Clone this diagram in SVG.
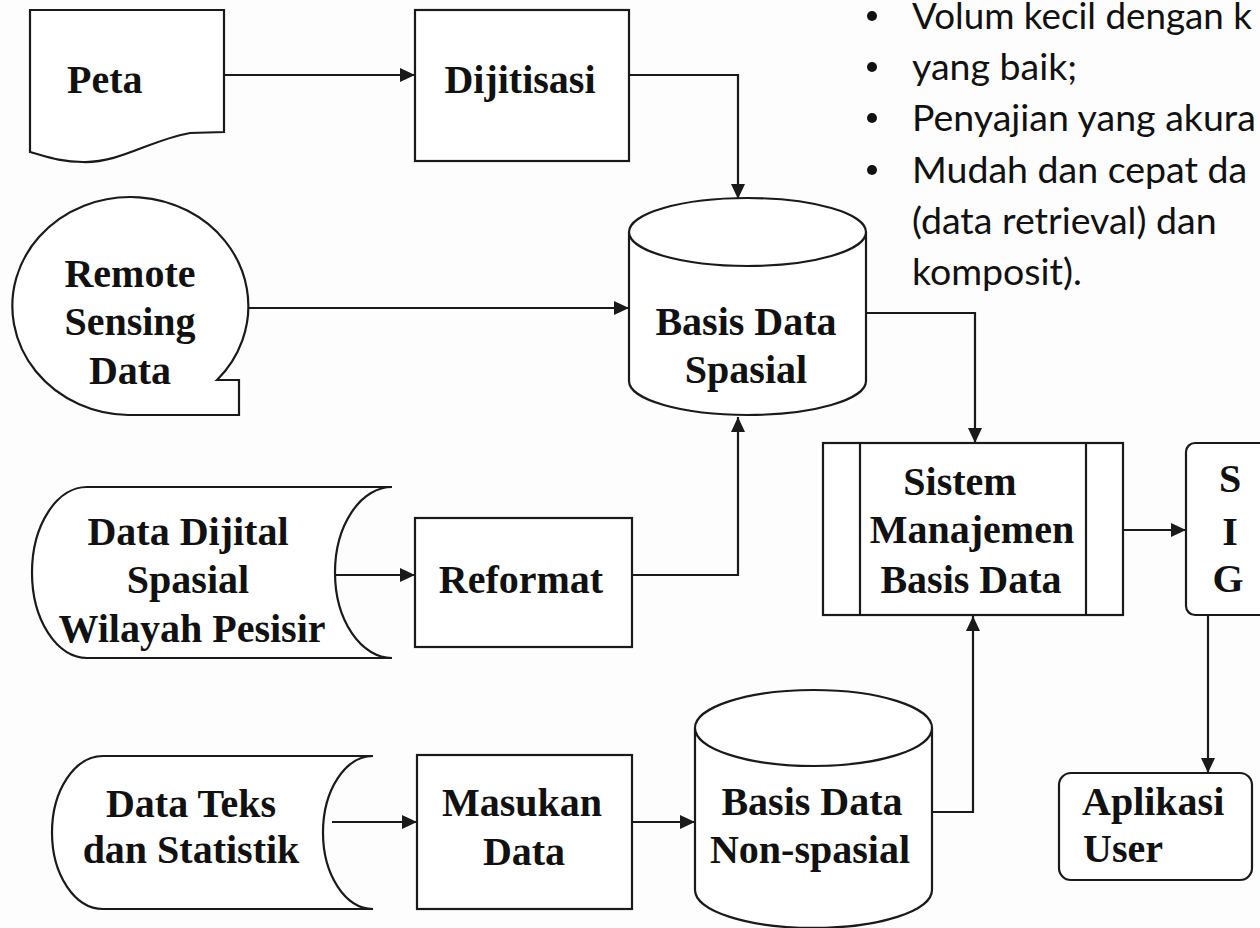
<svg xmlns="http://www.w3.org/2000/svg" width="1260" height="928" viewBox="0 0 1260 928">
<style>
.shape{fill:#fff;stroke:#1a1a1a;stroke-width:2.2}
.line{fill:none;stroke:#1a1a1a;stroke-width:2.2}
.lbl{font-family:"Liberation Serif","Times New Roman",serif;font-weight:bold;font-size:40px;fill:#111}
.mid{text-anchor:middle}
.bul{font-family:Lato,"Open Sans",sans-serif;font-size:37.5px;fill:#111}
</style>
<defs>
<marker id="arr" markerUnits="userSpaceOnUse" markerWidth="16" markerHeight="14" refX="15" refY="7" orient="auto">
<path d="M0,0 L15,7 L0,14 Z" fill="#1a1a1a"/>
</marker>
</defs>
<rect width="1260" height="928" fill="#fdfdfd"/>

<g id="bullets">
<circle cx="872" cy="16" r="5" fill="#111"/>
<text class="bul" x="912" y="29" textLength="340" lengthAdjust="spacingAndGlyphs">Volum kecil dengan k</text>
<circle cx="872" cy="67" r="5" fill="#111"/>
<text class="bul" x="912" y="80">yang baik;</text>
<circle cx="872" cy="118" r="5" fill="#111"/>
<text class="bul" x="912" y="131">Penyajian yang akura</text>
<circle cx="872" cy="170" r="5" fill="#111"/>
<text class="bul" x="912" y="183">Mudah dan cepat da</text>
<text class="bul" x="912" y="234">(data retrieval) dan</text>
<text class="bul" x="912" y="285">komposit).</text>
</g>

<g id="connectors">
<path class="line" d="M224,75 H415" marker-end="url(#arr)"/>
<path class="line" d="M629,75 H738 V199" marker-end="url(#arr)"/>
<path class="line" d="M247,308 H629" marker-end="url(#arr)"/>
<path class="line" d="M632,575 H738 V417" marker-end="url(#arr)"/>
<path class="line" d="M333,575 H415" marker-end="url(#arr)"/>
<path class="line" d="M866,313 H975 V443" marker-end="url(#arr)"/>
<path class="line" d="M1123,530 H1186" marker-end="url(#arr)"/>
<path class="line" d="M332,822 H417" marker-end="url(#arr)"/>
<path class="line" d="M632,822 H695" marker-end="url(#arr)"/>
<path class="line" d="M932,812 H973 V616" marker-end="url(#arr)"/>
<path class="line" d="M1208,615 V773" marker-end="url(#arr)"/>
</g>

<g id="peta">
<path class="shape" d="M30,10 H224 V132 L190,133 C150,140 120,163 83,162 C60,162 45,156 30,152 Z"/>
<text class="lbl" x="67" y="93">Peta</text>
</g>

<g id="dijitisasi">
<rect class="shape" x="415" y="10" width="214" height="151"/>
<text class="lbl mid" x="520" y="93">Dijitisasi</text>
</g>

<g id="remote-sensing">
<path class="shape" d="M217,380 A118 109 0 1 0 128,415 L239,415 L239,380 Z"/>
<text class="lbl mid" x="130" y="287">Remote</text>
<text class="lbl mid" x="130" y="335">Sensing</text>
<text class="lbl mid" x="130" y="384">Data</text>
</g>

<g id="basis-spasial">
<path class="shape" d="M629,232 V381 A118.5 34 0 0 0 866,381 V232"/>
<ellipse class="shape" cx="747.5" cy="232" rx="118.5" ry="34"/>
<text class="lbl mid" x="746" y="335">Basis Data</text>
<text class="lbl mid" x="746" y="383">Spasial</text>
</g>

<g id="data-dijital">
<path class="shape" d="M87,487 L392,487 A57 85.5 0 0 0 392,658 L87,658 A55 85.5 0 0 1 87,487 Z"/>
<text class="lbl mid" x="188" y="545">Data Dijital</text>
<text class="lbl mid" x="188" y="593">Spasial</text>
<text class="lbl mid" x="192" y="642">Wilayah Pesisir</text>
</g>

<g id="reformat">
<rect class="shape" x="415" y="518" width="217" height="129"/>
<text class="lbl mid" x="521" y="593">Reformat</text>
</g>

<g id="sistem-manajemen">
<rect class="shape" x="823" y="443" width="300" height="172"/>
<line class="line" x1="860" y1="443" x2="860" y2="615"/>
<line class="line" x1="1086" y1="443" x2="1086" y2="615"/>
<text class="lbl mid" x="960" y="495">Sistem</text>
<text class="lbl mid" x="972" y="543">Manajemen</text>
<text class="lbl mid" x="971" y="593">Basis Data</text>
</g>

<g id="sig">
<rect class="shape" x="1186" y="443" width="100" height="172" rx="9"/>
<text class="lbl mid" x="1230" y="492">S</text>
<text class="lbl mid" x="1230" y="545">I</text>
<text class="lbl mid" x="1228" y="592">G</text>
</g>

<g id="data-teks">
<path class="shape" d="M103,756 L373,756 A50 76.5 0 0 0 373,909 L103,909 A51 76.5 0 0 1 103,756 Z"/>
<text class="lbl mid" x="191" y="817">Data Teks</text>
<text class="lbl mid" x="191" y="863">dan Statistik</text>
</g>

<g id="masukan-data">
<rect class="shape" x="417" y="755" width="215" height="154"/>
<text class="lbl mid" x="522" y="816">Masukan</text>
<text class="lbl mid" x="524" y="865">Data</text>
</g>

<g id="basis-nonspasial">
<path class="shape" d="M695,728 V890 A118.5 38 0 0 0 932,890 V728"/>
<ellipse class="shape" cx="813.5" cy="728" rx="118.5" ry="38"/>
<text class="lbl mid" x="812" y="815">Basis Data</text>
<text class="lbl mid" x="810" y="863">Non-spasial</text>
</g>

<g id="aplikasi-user">
<rect class="shape" x="1059" y="773" width="193" height="107" rx="12"/>
<text class="lbl" x="1082" y="815">Aplikasi</text>
<text class="lbl" x="1083" y="862">User</text>
</g>
</svg>
